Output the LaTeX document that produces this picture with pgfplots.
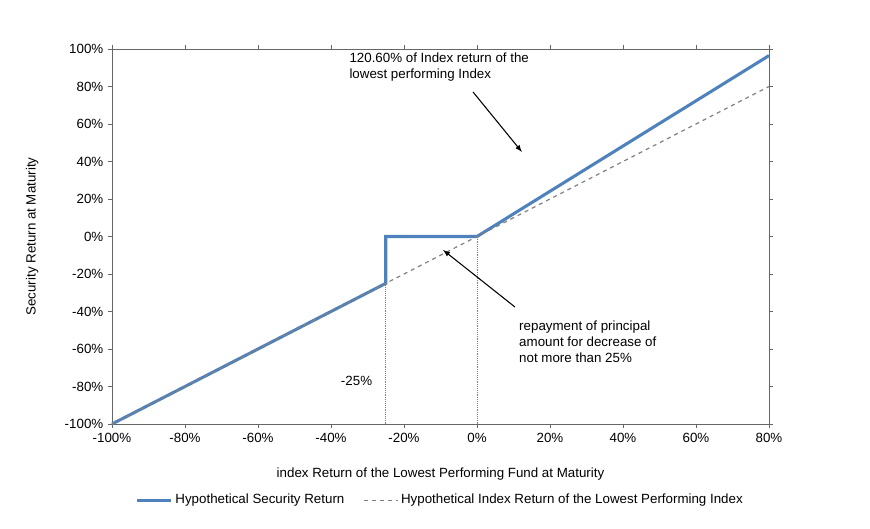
\documentclass[border=0pt]{standalone}
\usepackage{pgfplots}
\pgfplotsset{compat=1.18}
\usepackage{fontspec}
\setmainfont{Liberation Sans}
\definecolor{sblue}{HTML}{4F81BD}
\begin{document}
\begin{tikzpicture}
\path[use as bounding box] (-84pt,-78pt) rectangle (568.5pt,318pt);
\begin{axis}[at={(0,0)},anchor=south west,
 scale only axis, width=492.75pt, height=281.25pt,
 xmin=-100,xmax=80,ymin=-100,ymax=100,
 xtick={-100,-80,...,80}, ytick={-100,-80,...,100},
 xticklabel={\pgfmathprintnumber{\tick}\%}, yticklabel={\pgfmathprintnumber{\tick}\%},
 /pgf/number format/assume math mode=true,
 ticklabel style={font=\fontsize{10}{12}\selectfont},
 tick align=outside, major tick length=3pt,
 axis line style={black!60}, tick style={black!60},
 xlabel={index Return of the Lowest Performing Fund at Maturity},
 ylabel={Security Return at Maturity},
 label style={font=\fontsize{10}{12}\selectfont},
 xlabel style={at={(0.5,-0.105)},anchor=north},
 ylabel style={at={(-0.105,0.5)}},
 legend columns=2,
 legend style={at={(0.5,-0.203)},anchor=center,draw=none,font=\fontsize{10}{12}\selectfont,
   /tikz/every even column/.append style={column sep=12pt}},
 legend image post style={xscale=1.5},
 clip=false]
\addplot[sblue,line width=2.3pt] coordinates {(-100,-100) (-25,-25) (-25,0) (0,0) (80,96.48)};
\addlegendentry{Hypothetical Security Return}
\addplot[gray,dashed,line width=0.9pt] coordinates {(-100,-100) (80,80)};
\addlegendentry{Hypothetical Index Return of the Lowest Performing Index}
\addplot[gray,densely dotted,forget plot] coordinates {(-25,-100) (-25,-25)};
\addplot[gray,densely dotted,forget plot] coordinates {(0,-100) (0,0)};
\draw[-latex,thick] (axis cs:-1.1,77.1) -- (axis cs:12.3,45.1);
\draw[-latex,thick] (axis cs:10.4,-37.6) -- (axis cs:-9.3,-7.2);
\node[anchor=north west,align=left,font=\fontsize{10}{12}\selectfont,inner sep=0pt] at (axis cs:-35,98) {120.60\% of Index return of the\\lowest performing Index};
\node[anchor=north west,align=left,font=\fontsize{10}{12}\selectfont,inner sep=0pt] at (axis cs:11.5,-45) {repayment of principal\\amount for decrease of\\not more than 25\%};
\node[anchor=center,font=\fontsize{10}{12}\selectfont] at (axis cs:-33,-77) {-25\%};
\end{axis}
\end{tikzpicture}
\end{document}
